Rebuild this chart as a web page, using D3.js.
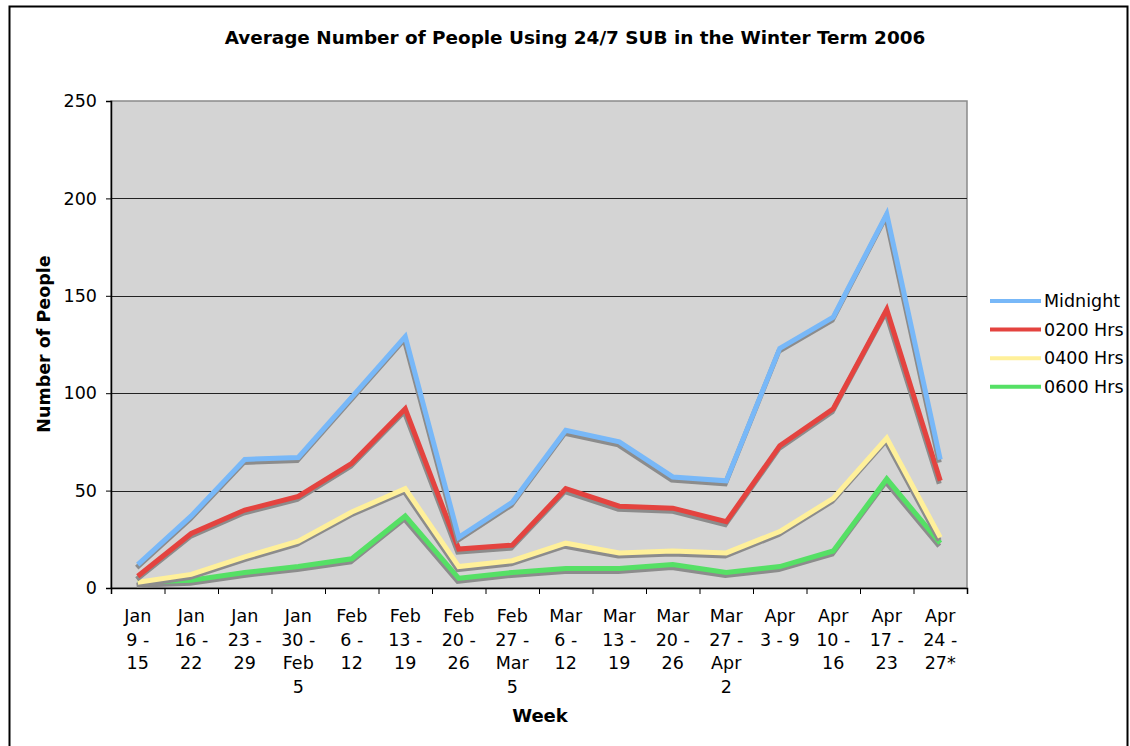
<!DOCTYPE html>
<html>
<head>
<meta charset="utf-8">
<script src="https://cdn.jsdelivr.net/npm/d3@7"></script>
<style>
  body { margin: 0; background: #fff; }
  svg text { font-family: "DejaVu Sans", Verdana, sans-serif; fill: #000; }
</style>
</head>
<body>
<div id="chart"></div>
<script>
// week labels, one line per "\n"
const weeks = [
  "Jan\n9 -\n15", "Jan\n16 -\n22", "Jan\n23 -\n29", "Jan\n30 -\nFeb\n5",
  "Feb\n6 -\n12", "Feb\n13 -\n19", "Feb\n20 -\n26", "Feb\n27 -\nMar\n5",
  "Mar\n6 -\n12", "Mar\n13 -\n19", "Mar\n20 -\n26", "Mar\n27 -\nApr\n2",
  "Apr\n3 - 9", "Apr\n10 -\n16", "Apr\n17 -\n23", "Apr\n24 -\n27*"
];

const midnight = [12, 37, 66, 67, 98, 129, 26, 44, 81, 75, 57, 55, 123, 139, 192, 66];
const hrs0200  = [6, 28, 40, 47, 64, 92, 20, 22, 51, 42, 41, 34, 73, 92, 143, 55];
const hrs0400  = [3, 7, 16, 24, 39, 51, 11, 14, 23, 18, 19, 18, 29, 46, 77, 26];
const hrs0600  = [3, 4, 8, 11, 15, 37, 5, 8, 10, 10, 12, 8, 11, 19, 56, 23];

const seriesNames = ["Midnight", "0200 Hrs", "0400 Hrs", "0600 Hrs"];
const seriesColors = ["#78b8f8", "#e4433f", "#fff09a", "#55e065"];
const yTicks = [0, 50, 100, 150, 200, 250];

const series = [midnight, hrs0200, hrs0400, hrs0600].map((values, i) => ({
  name: seriesNames[i], color: seriesColors[i], values
}));

const W = 1130, H = 746;
const plot = { left: 111, top: 101, right: 967, bottom: 588 };
const fs = 17.5; // body font size

const svg = d3.select("#chart").append("svg")
  .attr("width", W).attr("height", H);

// outer chart border
svg.append("rect")
  .attr("x", 9.5).attr("y", 6.5)
  .attr("width", 1118).attr("height", 760)
  .attr("fill", "#fff").attr("stroke", "#000").attr("stroke-width", 2);

const x = d3.scaleBand(d3.range(weeks.length), [plot.left, plot.right]);
const xEdge = d3.scaleLinear([0, weeks.length], [plot.left, plot.right]);
const y = d3.scaleLinear([0, 250], [plot.bottom, plot.top]);

// plot background
svg.append("rect")
  .attr("x", plot.left).attr("y", plot.top)
  .attr("width", plot.right - plot.left).attr("height", plot.bottom - plot.top)
  .attr("fill", "#d4d4d4").attr("stroke", "#8a8a8a").attr("stroke-width", 1.5);

// gridlines
svg.append("g").selectAll("line")
  .data(yTicks.filter(t => t > 0 && t < 250))
  .join("line")
  .attr("x1", plot.left).attr("x2", plot.right)
  .attr("y1", d => Math.round(y(d)) + 0.5).attr("y2", d => Math.round(y(d)) + 0.5)
  .attr("stroke", "#222").attr("stroke-width", 1);

// y axis
const axisY = svg.append("g")
  .attr("transform", `translate(${plot.left},0)`)
  .call(d3.axisLeft(y).tickValues(yTicks).tickSize(5).tickPadding(9));
axisY.select(".domain").attr("stroke", "#000").attr("stroke-width", 1.5);
axisY.selectAll("line").attr("stroke", "#000");
axisY.selectAll("text").attr("font-size", fs).attr("fill", "#000")
  .style("font-family", '"DejaVu Sans", Verdana, sans-serif');

// x axis: ticks on category edges
const axisX = svg.append("g")
  .attr("transform", `translate(0,${plot.bottom})`)
  .call(d3.axisBottom(xEdge).tickValues(d3.range(weeks.length + 1)).tickSize(6).tickFormat(""));
axisX.select(".domain").attr("stroke", "#000").attr("stroke-width", 1.5);
axisX.selectAll("line").attr("stroke", "#000");

// x labels
const xLabels = svg.append("g").selectAll("text")
  .data(weeks)
  .join("text")
  .attr("text-anchor", "middle")
  .attr("font-size", fs)
  .attr("transform", (d, i) => `translate(${x(i) + x.bandwidth() / 2},622)`);
xLabels.selectAll("tspan")
  .data(d => d.split("\n"))
  .join("tspan")
  .attr("x", 0)
  .attr("dy", (d, i) => i === 0 ? 0 : 23.7)
  .text(d => d);

// lines with shadow
const line = d3.line()
  .x((d, i) => x(i) + x.bandwidth() / 2)
  .y(d => y(d));

const lines = svg.append("g");
series.slice().reverse().forEach(s => {
  lines.append("path")
    .attr("d", line(s.values))
    .attr("transform", "translate(-1,3)")
    .attr("fill", "none").attr("stroke", "#8c8c8c")
    .attr("stroke-width", 5).attr("stroke-linejoin", "miter");
  lines.append("path")
    .attr("d", line(s.values))
    .attr("fill", "none").attr("stroke", s.color)
    .attr("stroke-width", 5).attr("stroke-linejoin", "miter");
});

// titles
svg.append("text")
  .attr("x", 575).attr("y", 44)
  .attr("text-anchor", "middle")
  .attr("font-size", 18.4).attr("font-weight", "bold")
  .text("Average Number of People Using 24/7 SUB in the Winter Term 2006");

svg.append("text")
  .attr("transform", "translate(50,344) rotate(-90)")
  .attr("text-anchor", "middle")
  .attr("font-size", fs).attr("font-weight", "bold")
  .text("Number of People");

svg.append("text")
  .attr("x", 540).attr("y", 722)
  .attr("text-anchor", "middle")
  .attr("font-size", 18).attr("font-weight", "bold")
  .text("Week");

// legend
const legend = svg.append("g").selectAll("g")
  .data(series)
  .join("g")
  .attr("transform", (d, i) => `translate(990,${301 + i * 28.6})`);
legend.append("line")
  .attr("x1", 0).attr("x2", 51)
  .attr("stroke", d => d.color).attr("stroke-width", 4);
legend.append("text")
  .attr("x", 54).attr("y", 6)
  .attr("font-size", fs)
  .text(d => d.name);
</script>
</body>
</html>
